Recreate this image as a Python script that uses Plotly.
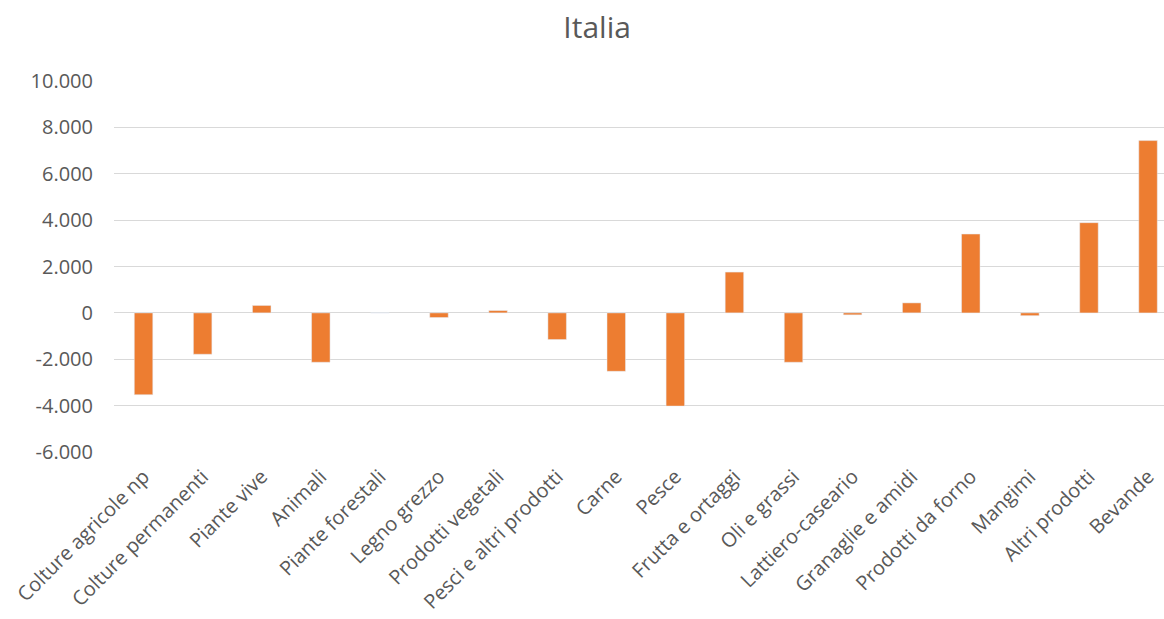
import plotly.graph_objects as go

# Saldo per comparto (valori)
categorie = [
    "Colture agricole np", "Colture permanenti", "Piante vive", "Animali",
    "Piante forestali", "Legno grezzo", "Prodotti vegetali",
    "Pesci e altri prodotti", "Carne", "Pesce", "Frutta e ortaggi",
    "Oli e grassi", "Lattiero-caseario", "Granaglie e amidi",
    "Prodotti da forno", "Mangimi", "Altri prodotti", "Bevande",
]
saldo = [
    -3530, -1785, 320, -2130,
    0, -200, 100,
    -1150, -2520, -4020, 1760,
    -2130, -85, 430,
    3400, -120, 3890, 7430,
]

tick_valori = [-6000, -4000, -2000, 0, 2000, 4000, 6000, 8000, 10000]
tick_testi = ["-6.000", "-4.000", "-2.000", "0", "2.000", "4.000", "6.000", "8.000", "10.000"]

fig = go.Figure(
    go.Bar(
        x=categorie,
        y=saldo,
        marker=dict(color="#ED7D31"),
    )
)

fig.update_layout(
    width=1164,
    height=619,
    margin=dict(l=114, r=0, t=81, b=167),
    paper_bgcolor="white",
    plot_bgcolor="white",
    font=dict(family="'Open Sans', sans-serif", color="#595959", size=20),
    title=dict(
        text="Italia",
        x=0.513,
        xanchor="center",
        y=0.956,
        yanchor="middle",
        font=dict(size=30, color="#595959"),
    ),
    bargap=0.687,
    showlegend=False,
)

fig.update_yaxes(
    range=[-6000, 10000],
    tickvals=tick_valori,
    ticktext=tick_testi,
    tickfont=dict(size=20),
    showgrid=True,
    gridcolor="#D9D9D9",
    gridwidth=1,
    zeroline=True,
    zerolinecolor="#D9D9D9",
    zerolinewidth=1,
    showline=False,
    ticks="",
    ticklabelstandoff=20,
)

# the last category band runs past the right edge of the figure
fig.update_xaxes(
    range=[-0.5, 17.27],
    tickangle=-45,
    tickfont=dict(size=20),
    showgrid=False,
    showline=False,
    ticks="",
    ticklabelstandoff=8,
)

fig.write_html("out.html")
